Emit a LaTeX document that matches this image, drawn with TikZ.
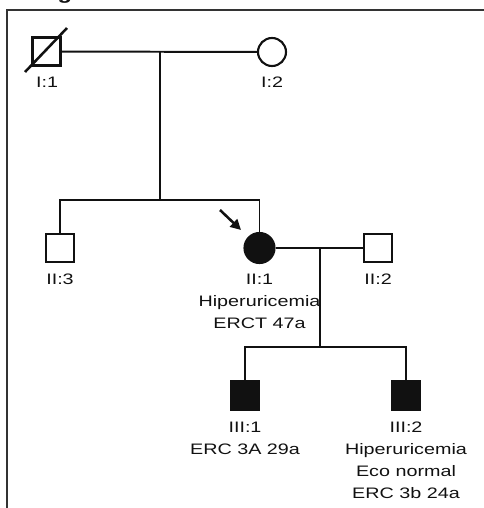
\documentclass[tikz,border=0pt]{standalone}
\usepackage{fontspec}
\setmainfont{Liberation Sans}[FakeStretch=1.3]
\usetikzlibrary{arrows.meta,positioning}
\definecolor{ink}{HTML}{111111}
\definecolor{frame}{HTML}{333333}

\begin{document}
\begin{tikzpicture}[
  x=0.025cm, y=-0.025cm,
  text=ink,
  male/.style={draw=ink, line width=1.5pt, rectangle, minimum size=0.7cm, inner sep=0pt},
  female/.style={draw=ink, line width=1.5pt, circle, minimum size=0.7cm, inner sep=0pt},
  affected/.style={fill=ink},
  tag/.style={font=\fontsize{10.8}{15.5}\selectfont, align=center, anchor=north, inner sep=0pt},
  rel/.style={draw=ink, line width=1.4pt},
  proband/.style={-{Triangle[length=2.6mm, width=2.6mm]}, draw=ink, line width=1.8pt}
]
  \useasboundingbox (0,0) rectangle (483,508);
  \draw[frame, line width=1.1pt] (7,530) -- (7,10) -- (500,10);
  \node[font=\bfseries\fontsize{13}{13}\selectfont, anchor=base, inner sep=0pt] (title) at (65,-1) {g};
  % generation I
  \node[male] (i1) at (46.5,51.5) {};
  \node[female] (i2) at (272,52) {};
  \draw[rel, line width=1.8pt] (25,72) -- (67,28);
  \node[tag] (i1t) at (47,77) {I:1};
  \node[tag] (i2t) at (272,77) {I:2};
  \coordinate (mate1) at (160,51.5);
  \coordinate (sib1) at (160,200);
  \draw[rel] (i1) -- (i2);
  \draw[rel] (mate1) -- (sib1);
  % generation II
  \node[male] (ii3) at (60,248) {};
  \node[female, affected, minimum size=0.75cm] (ii1) at (259.5,248) {};
  \node[male] (ii2) at (378,248) {};
  \node[tag] (ii3t) at (60,274) {II:3};
  \node[tag] (ii1t) at (259.5,274) {II:1\\Hiperuricemia\\ERCT 47a};
  \node[tag] (ii2t) at (378,274) {II:2};
  \draw[rel] (ii3.north) |- (sib1) -| (ii1.north);
  \coordinate (mate2) at (320,248);
  \coordinate (sib2) at (320,347);
  \draw[rel] (ii1) -- (ii2);
  \draw[rel] (mate2) -- (sib2);
  \coordinate (arrtail) at (220,210);
  \coordinate (arrtip) at (241,230);
  \draw[proband] (arrtail) -- (arrtip);
  % generation III
  \node[male, affected, minimum size=0.72cm] (iii1) at (245,395.5) {};
  \node[male, affected, minimum size=0.72cm] (iii2) at (406,395.5) {};
  \node[tag] (iii1t) at (245,422) {III:1\\ERC 3A 29a};
  \node[tag] (iii2t) at (406,422) {III:2\\Hiperuricemia\\Eco normal\\ERC 3b 24a};
  \draw[rel] (iii1.north) |- (sib2) -| (iii2.north);
\end{tikzpicture}
\end{document}
